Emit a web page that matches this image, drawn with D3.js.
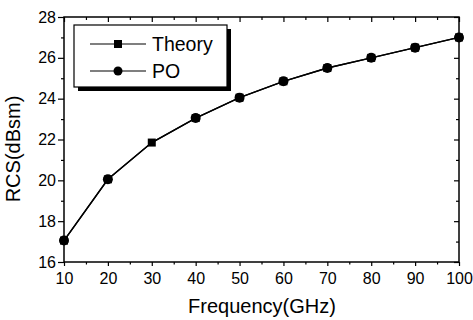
<!DOCTYPE html>
<html><head><meta charset="utf-8">
<script src="https://cdn.jsdelivr.net/npm/d3@7"></script>
<style>body{margin:0;background:#fff}svg{display:block}</style>
</head><body>
<svg id="c" width="473" height="320"></svg>
<script>
const freq = [10,20,30,40,50,60,70,80,90,100];
const theory = [17.05,20.05,21.85,23.05,24.05,24.85,25.5,26.0,26.5,27.0];
const po = [17.05,20.05,21.85,23.05,24.05,24.85,25.5,26.0,26.5,27.0];
const xTicks = [10,20,30,40,50,60,70,80,90,100];
const yTicks = [16,18,20,22,24,26,28];
const seriesNames = ["Theory","PO"];

const svg = d3.select("#c");
const L=64,R=459,T=17,B=262;
const x = d3.scaleLinear().domain([10,100]).range([L,R]);
const y = d3.scaleLinear().domain([16,28]).range([B,T]);
const font = "Liberation Sans, Arial, sans-serif";

// frame
svg.append("rect").attr("x",L).attr("y",T).attr("width",R-L).attr("height",B-T)
  .attr("fill","none").attr("stroke","#000").attr("stroke-width",1.5);

const xMinor = d3.range(15,100,10);
const yMinor = d3.range(17,28,2);
// bottom axis
const gb = svg.append("g").attr("transform",`translate(0,${B})`);
gb.call(d3.axisBottom(x).tickValues(xTicks).tickSize(4).tickPadding(7).tickFormat(d3.format("d")));
gb.append("g").call(d3.axisBottom(x).tickValues(xMinor).tickSize(2.5).tickFormat(""));
// top axis (inward)
const gt = svg.append("g").attr("transform",`translate(0,${T})`);
gt.call(d3.axisBottom(x).tickValues(xTicks).tickSize(5).tickFormat(""));
gt.append("g").call(d3.axisBottom(x).tickValues(xMinor).tickSize(3).tickFormat(""));
// left axis
const gl = svg.append("g").attr("transform",`translate(${L},0)`);
gl.call(d3.axisLeft(y).tickValues(yTicks).tickSize(6).tickPadding(2).tickFormat(d3.format("d")));
gl.append("g").call(d3.axisLeft(y).tickValues(yMinor).tickSize(3).tickFormat(""));
// right axis (inward)
const gr = svg.append("g").attr("transform",`translate(${R},0)`);
gr.call(d3.axisLeft(y).tickValues(yTicks).tickSize(5).tickFormat(""));
gr.append("g").call(d3.axisLeft(y).tickValues(yMinor).tickSize(3).tickFormat(""));

svg.selectAll(".domain").remove();
svg.selectAll(".tick line").attr("stroke","#000").attr("stroke-width",1.2);
svg.selectAll(".tick text").attr("font-family",font).attr("font-size",16).attr("fill","#000");

// axis titles
svg.append("text").attr("x",262).attr("y",313).attr("text-anchor","middle")
  .attr("font-family",font).attr("font-size",20).text("Frequency(GHz)");
svg.append("text").attr("transform",`translate(20,149) rotate(-90)`).attr("text-anchor","middle")
  .attr("font-family",font).attr("font-size",20).text("RCS(dBsm)");

const line = d3.line().x((d,i)=>x(freq[i])).y(d=>y(d));
svg.append("path").attr("d",line(theory)).attr("fill","none").attr("stroke","#000").attr("stroke-width",1.4);
svg.append("path").attr("d",line(po)).attr("fill","none").attr("stroke","#000").attr("stroke-width",1.4);

svg.selectAll("rect.sq").data(theory).join("rect").attr("class","sq")
  .attr("x",(d,i)=>x(freq[i])-4).attr("y",d=>y(d)-4).attr("width",8).attr("height",8).attr("fill","#000");
svg.selectAll("circle.ci").data(po.map((v,i)=>({v,i})).filter(d=>d.i!==2)).join("circle").attr("class","ci")
  .attr("cx",d=>x(freq[d.i])).attr("cy",d=>y(d.v)).attr("r",5).attr("fill","#000");

// legend
const lg = svg.append("g");
lg.append("rect").attr("x",78).attr("y",29).attr("width",153).attr("height",62).attr("fill","#000");
lg.append("rect").attr("x",74).attr("y",25).attr("width",153).attr("height",62).attr("fill","#fff").attr("stroke","#000").attr("stroke-width",1.2);
const ly = [44,71];
seriesNames.forEach((n,i)=>{
  lg.append("line").attr("x1",90).attr("x2",146).attr("y1",ly[i]).attr("y2",ly[i]).attr("stroke","#000").attr("stroke-width",1.2);
  if(i===0) lg.append("rect").attr("x",114).attr("y",ly[i]-4).attr("width",8).attr("height",8).attr("fill","#000");
  else lg.append("circle").attr("cx",118).attr("cy",ly[i]).attr("r",4.5).attr("fill","#000");
  lg.append("text").attr("x",152).attr("y",ly[i]+7).attr("font-family",font).attr("font-size",19.5).text(n);
});
</script>
</body></html>
